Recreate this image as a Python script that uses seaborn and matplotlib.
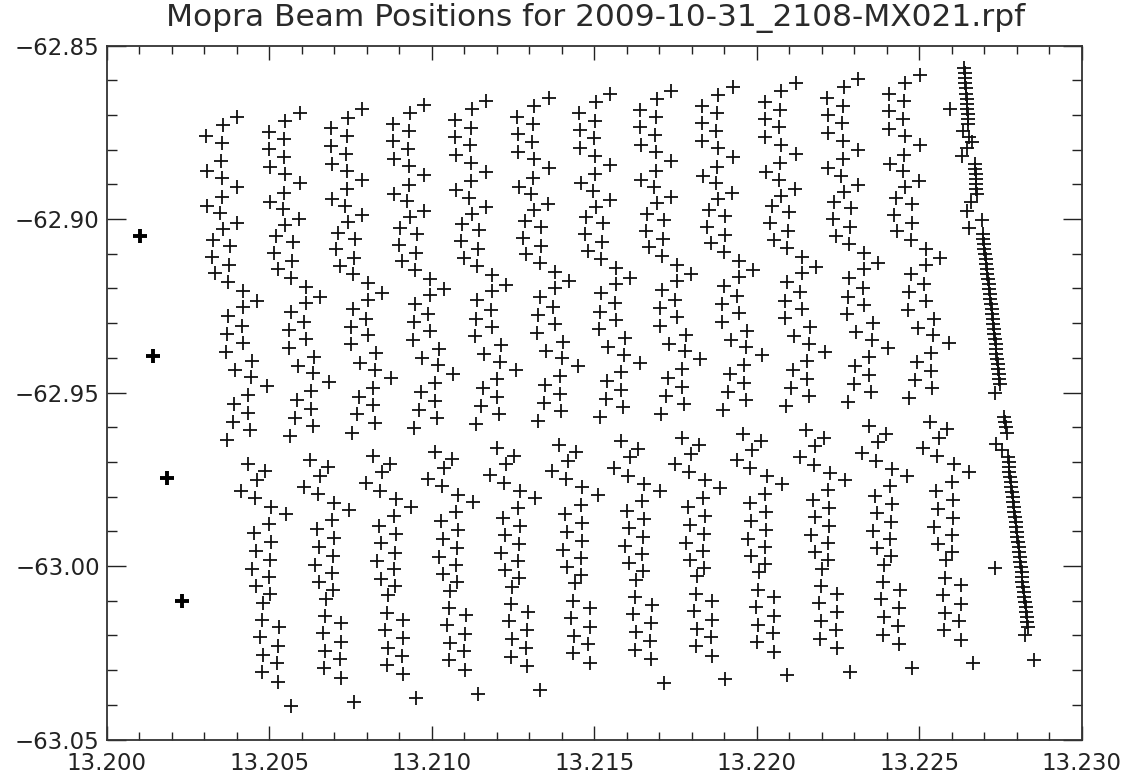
import numpy as np
import pandas as pd
import seaborn as sns
import matplotlib.pyplot as plt
from matplotlib.ticker import MultipleLocator, FuncFormatter

# beam positions of the first scan column (RA, Dec in deg)
COL1_RA = [13.20402, 13.20357, 13.20306, 13.20354, 13.20307, 13.20351, 13.20308, 13.20356,
           13.20402, 13.20354, 13.20310, 13.20349, 13.20400, 13.20357, 13.20328, 13.20379,
           13.20323, 13.20377, 13.20333, 13.20374, 13.20420, 13.20463, 13.20420, 13.20374,
           13.20415, 13.20369, 13.20420, 13.20367, 13.20446, 13.20395, 13.20443, 13.20492,
           13.20436, 13.20392, 13.20436, 13.20387, 13.20441, 13.20370, 13.20434, 13.20487,
           13.20462, 13.20413, 13.20456, 13.20506, 13.20553, 13.20500, 13.20453, 13.20505,
           13.20459, 13.20503, 13.20447, 13.20500, 13.20459, 13.20502, 13.20482, 13.20478,
           13.20529, 13.20472, 13.20528, 13.20480, 13.20524, 13.20477, 13.20528, 13.20567]
COL1_DEC = [-62.87052, -62.87291, -62.87599, -62.87818, -62.88098, -62.88328, -62.88617, -62.88827,
            -62.89086, -62.89357, -62.89625, -62.89836, -62.90107, -62.90297, -62.90605, -62.90778,
            -62.91086, -62.91326, -62.91565, -62.91807, -62.92066, -62.92349, -62.92536, -62.92795,
            -62.93084, -62.93323, -62.93565, -62.93824, -62.94083, -62.94351, -62.94562, -62.94798,
            -62.95072, -62.95331, -62.95582, -62.95841, -62.96081, -62.96369, -62.97052, -62.97268,
            -62.97513, -62.97824, -62.98049, -62.98285, -62.98501, -62.98781, -62.99057, -62.99299,
            -62.99559, -62.99827, -63.00078, -63.00308, -63.00576, -63.00798, -63.01052, -63.01556,
            -63.01766, -63.02046, -63.02297, -63.02565, -63.02804, -63.03063, -63.03334, -63.04020]

# offset of each of the 12 scan columns from the first one
COL_RA_SHIFT = [0.0, 0.00193, 0.00384, 0.00575, 0.00766, 0.00958,
                0.01148, 0.01335, 0.01525, 0.01719, 0.01911, 0.02100]
COL_DEC_SHIFT = [0.0, 0.00115, 0.00210, 0.00343, 0.00452, 0.00553,
                 0.00654, 0.00755, 0.00870, 0.00971, 0.01086, 0.01216]
# points not present in a column (column index: template indices)
MISSING = {0: [4], 5: [63]}

# last column, where the beam piles up into a line
LINE_RA = [13.22639, 13.22641, 13.22641, 13.22642, 13.22644, 13.22644, 13.22646, 13.22647,
           13.22647, 13.22649, 13.22649, 13.22650,
           13.22635, 13.22653, 13.22662, 13.22647, 13.22632,
           13.22672, 13.22673, 13.22675, 13.22675, 13.22676, 13.22676, 13.22678,
           13.22659, 13.22647, 13.22693, 13.22653,
           13.22696, 13.22698, 13.22700, 13.22701, 13.22703, 13.22705, 13.22707, 13.22708,
           13.22710, 13.22712, 13.22714, 13.22715, 13.22717, 13.22719, 13.22721, 13.22723,
           13.22724, 13.22726, 13.22728, 13.22730, 13.22731, 13.22733, 13.22735, 13.22737,
           13.22738, 13.22740, 13.22742, 13.22744, 13.22745, 13.22747, 13.22749,
           13.22733, 13.22761, 13.22764, 13.22767, 13.22770, 13.22736, 13.22755,
           13.22773, 13.22775, 13.22777, 13.22778, 13.22780, 13.22782, 13.22784, 13.22786,
           13.22788, 13.22789, 13.22791, 13.22793, 13.22795, 13.22797, 13.22798, 13.22800,
           13.22802, 13.22804, 13.22806, 13.22808, 13.22809, 13.22811, 13.22813, 13.22815,
           13.22817, 13.22818, 13.22820, 13.22822, 13.22824, 13.22826, 13.22828, 13.22829,
           13.22831, 13.22833, 13.22835, 13.22826,
           13.22595, 13.22733, 13.22853]
LINE_DEC = [-62.8565, -62.8579, -62.8594, -62.8608, -62.8623, -62.8640, -62.8654, -62.8669,
            -62.8683, -62.8698, -62.8712, -62.8726,
            -62.87464, -62.87637, -62.87781, -62.87954, -62.88184,
            -62.88415, -62.88559, -62.88703, -62.88847, -62.88991, -62.89135, -62.89280,
            -62.89510, -62.89770, -62.90029, -62.90259,
            -62.90432, -62.90576, -62.90720, -62.90864, -62.91009, -62.91153, -62.91297, -62.91441,
            -62.91585, -62.91729, -62.91873, -62.92017, -62.92161, -62.92305, -62.92449, -62.92594,
            -62.92738, -62.92882, -62.93026, -62.93170, -62.93314, -62.93458, -62.93602, -62.93746,
            -62.93890, -62.94034, -62.94179, -62.94323, -62.94467, -62.94611, -62.94755,
            -62.95014, -62.95706, -62.95850, -62.95994, -62.96167, -62.96484, -62.96657,
            -62.96859, -62.97003, -62.97147, -62.97291, -62.97435, -62.97579, -62.97723, -62.97867,
            -62.98011, -62.98155, -62.98299, -62.98444, -62.98588, -62.98732, -62.98876, -62.99020,
            -62.99164, -62.99308, -62.99452, -62.99596, -62.99740, -62.99884, -63.00028, -63.00173,
            -63.00317, -63.00461, -63.00605, -63.00749, -63.00893, -63.01037, -63.01181, -63.01325,
            -63.01469, -63.01613, -63.01757, -63.01988,
            -62.86830, -63.00057, -63.02708]

# reference pointings on the left (drawn heavier)
REF_RA = [13.20102, 13.20142, 13.20186, 13.20232]
REF_DEC = [-62.9050, -62.9395, -62.9746, -63.0100]

TITLE = "Mopra Beam Positions for 2009-10-31_2108-MX021.rpf"

# build table of all beam positions
rows = []
for c in range(len(COL_RA_SHIFT)):
    skip = MISSING.get(c, [])
    for i in range(len(COL1_RA)):
        if i in skip:
            continue
        rows.append((COL1_RA[i] + COL_RA_SHIFT[c], COL1_DEC[i] + COL_DEC_SHIFT[c]))
for ra, dec in zip(LINE_RA, LINE_DEC):
    rows.append((ra, dec))
beams = pd.DataFrame(rows, columns=["ra", "dec"])
refs = pd.DataFrame({"ra": REF_RA, "dec": REF_DEC})

sns.set_style("white")
plt.rcParams['font.family'] = ['DejaVu Sans']

fig = plt.figure(figsize=(11.26, 7.81), dpi=100)
ax = fig.add_axes([0.0948, 0.0531, 0.8658, 0.8886])

sns.scatterplot(data=beams, x="ra", y="dec", marker="+", s=95, color="#111111",
                linewidth=1.3, ax=ax, legend=False)
sns.scatterplot(data=refs, x="ra", y="dec", marker="+", s=110, color="black",
                linewidth=2.8, ax=ax, legend=False)

ax.set_xlim(13.200, 13.230)
ax.set_ylim(-63.05, -62.85)
ax.set_xlabel("")
ax.set_ylabel("")

ax.xaxis.set_major_locator(MultipleLocator(0.005))
ax.xaxis.set_minor_locator(MultipleLocator(0.001))
ax.yaxis.set_major_locator(MultipleLocator(0.05))
ax.yaxis.set_minor_locator(MultipleLocator(0.01))
ax.xaxis.set_major_formatter(FuncFormatter(lambda v, p: f"{v:.3f}"))
ax.yaxis.set_major_formatter(FuncFormatter(lambda v, p: f"{v:.2f}".replace("-", "\u2212")))

ax.tick_params(axis="x", which="major", direction="in", length=10, width=1,
               top=True, bottom=True, labelsize=16.5, pad=9, colors="#222222")
ax.tick_params(axis="x", which="minor", direction="in", length=5.5, width=1,
               top=True, bottom=True, colors="#222222")
ax.tick_params(axis="y", which="major", direction="in", length=13.5, width=1,
               left=True, right=True, labelsize=16.5, pad=5, colors="#222222")
ax.tick_params(axis="y", which="minor", direction="in", length=7, width=1,
               left=True, right=True, colors="#222222")

for sp in ax.spines.values():
    sp.set_visible(True)
    sp.set_color("#333333")
    sp.set_linewidth(1.3)

fig.text(0.529, 0.977, TITLE, ha="center", va="center", fontsize=22.5, color="#2a2a2a")

fig.savefig("out.png", dpi=100, facecolor="white")
